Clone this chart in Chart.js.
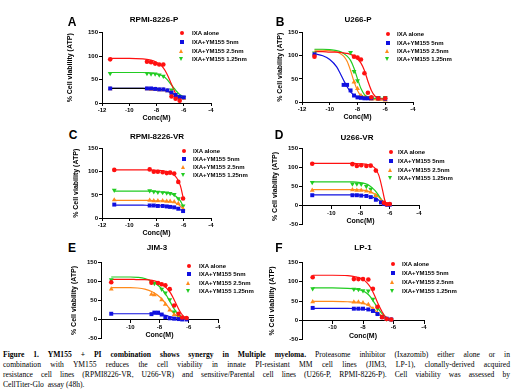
<!DOCTYPE html>
<html><head><meta charset="utf-8">
<script src="https://cdn.jsdelivr.net/npm/chart.js@4.4.1/dist/chart.umd.min.js"></script>
<style>
html,body{margin:0;padding:0;background:#fff;}
body{width:520px;height:390px;position:relative;overflow:hidden;font-family:"Liberation Sans",Arial,sans-serif;color:#000;}
canvas{position:absolute;}
.letter{position:absolute;font-weight:bold;font-size:12px;line-height:12px;transform:translate(-50%,-50%);}
.ptitle{position:absolute;font-weight:bold;font-size:8px;line-height:8px;transform:translate(-50%,-50%);white-space:nowrap;}
.legt{position:absolute;font-weight:bold;font-size:6px;line-height:6px;white-space:nowrap;}
.mk{position:absolute;}
#cap{position:absolute;left:3px;top:350px;width:507px;font-family:"Liberation Serif","Times New Roman",serif;font-size:7.6px;line-height:10px;}
#cap .j{text-align:justify;text-align-last:justify;}
</style>
</head><body>
<div id="cap">
<div class="j"><b>Figure 1. YM155 + PI combination shows synergy in Multiple myeloma.</b> Proteasome inhibitor (Ixazomib) either alone or in</div>
<div class="j">combination with YM155 reduces the cell viability in innate PI-resistant MM cell lines (JIM3, LP-1), clonally-derived acquired</div>
<div class="j">resistance cell lines (RPMI8226-VR, U266-VR) and sensitive/Parental cell lines (U266-P, RPMI-8226-P). Cell viability was assessed by</div>
<div>CellTiter-Glo&nbsp; assay (48h).</div>
</div>
<script>
// ---------- DATA ----------
const seriesNames = ['IXA alone', 'IXA+YM155 5nm', 'IXA+YM155 2.5nm', 'IXA+YM155 1.25nm'];
const panelLetters = ['A', 'B', 'C', 'D', 'E', 'F'];
const panelTitles = ['RPMI-8226-P', 'U266-P', 'RPMI-8226-VR', 'U266-VR', 'JIM-3', 'LP-1'];
const xTitle = 'Conc(M)';
const yTitle = '% Cell viability (ATP)';
const xTicks = [-12, -10, -8, -6, -4];
const yTicksTop = [0, 50, 100, 150];
const yTicksBottom = [-50, 0, 50, 100, 150];

// Panel A : RPMI-8226-P
const aDose = [-11.4, -8.7, -8.4, -8.1, -7.8, -7.5, -7.2, -6.9, -6.6, -6.3, -6.0];
const aIxa  = [93, 88, 87, 84, 82, 82, null, 14, 9, 5, null];
const a5    = [31, 31, 31, 30, 29, 29, 27, 22, 17, 13, 12];
const a25   = [30, 30, 29, 29, 28, 28, 26, 21, 15, 11, 10];
const a125  = [63, 63, 62, 62, 60, 57, null, 28, 18, 14, 12];
const aFitX   = [-11.4, -10, -9, -8.5, -8, -7.75, -7.5, -7.25, -7, -6.75, -6.5, -6.25, -6.0];
const aIxaFit = [95, 95, 94, 92, 87, 82, 75, 63, 47, 30, 14, 1, null];
const a5Fit   = [31, 31, 31, 31, 30, 29, 28, 26, 23, 20, 16, 13, 11];
const a25Fit  = [31, 31, 31, 30, 30, 29, 28, 26, 23, 19, 15, 12, 10];
const a125Fit = [65, 65, 65, 64, 62, 60, 57, 51, 42, 33, 24, 17, 13];

// Panel B : U266-P
const bDose = [-11.1, -9.0, -8.75, -8.5, -8.25, -8.0, -7.75, -7.5, -7.25, -7.0, -6.5, -6.0];
const bIxa  = [98, null, null, null, 98, 96, 92, 62, 20, 10, 8, 8];
const b5    = [103, 37, 37, 25, 14, 10, 9, 8, 8, 8, 8, 7];
const b25   = [104, null, null, null, 43, 29, 14, 10, 8, 6, 5, 4];
const b125  = [106, null, null, 107, 66, 46, 12, 10, 10, 10, 10, 10];
const bFitX   = [-11.1, -10.5, -10, -9.5, -9.25, -9, -8.75, -8.5, -8.25, -8, -7.75, -7.5, -7.25, -7, -6.75, -6.5, -6];
const bIxaFit = [109, 109, 108, 108, 107, 106, 105, 103, 99, 93, 84, 68, 45, 25, 13, 8, 6];
const b5Fit   = [104, 100, 92, 76, 62, 47, 33, 22, 15, 11, 9, 8, 8, 7, 7, 7, 7];
const b25Fit  = [112, 112, 111, 108, 105, 99, 88, 68, 44, 25, 13, 8, 6, 5, 5, 4, 4];
const b125Fit = [114, 114, 113, 111, 109, 105, 99, 90, 73, 50, 29, 16, 11, 9, 8, 8, 8];

// Panel C : RPMI-8226-VR
const cDose = [-11.1, -8.5, -8.2, -7.9, -7.55, -7.25, -7.0, -6.7, -6.4, -6.05];
const cIxa  = [104, 105, 100, 100, 99, 97, 98, 96, 78, 42];
const c5    = [29, 27, 27, 26, 26, 25, 24, 23, 20, 15];
const c25   = [39, 38, 37, 37, 37, 36, 36, 35, 31, 20];
const c125  = [60, 59, 57, 56, 55, 54, 53, 51, 42, 26];
const cFitX   = [-11.1, -10, -9, -8.5, -8, -7.5, -7, -6.75, -6.5, -6.25, -6.05];
const cIxaFit = [104, 104, 104, 104, 103, 102, 98, 94, 86, 70, 45];
const c5Fit   = [28, 28, 28, 27, 27, 26, 25, 23, 21, 18, 15];
const c25Fit  = [38, 38, 38, 38, 37, 37, 35, 34, 31, 26, 20];
const c125Fit = [58, 58, 58, 58, 57, 56, 53, 50, 45, 37, 26];

// Panel D : U266-VR
const dDose = [-11.3, -8.55, -8.25, -7.95, -7.6, -7.3, -6.95, -6.6, -6.4, -6.2, -6.0];
const dIxa  = [110, 109, 104, 106, 104, 105, 92, null, 7, 3, 4];
const d5    = [27, 27, 27, 26, 25, 22, 15, 8, 4, 2, 2];
const d25   = [40, 41, 40, 40, 38, 35, 26, 12, 5, 2, 2];
const d125  = [61, 57, 57, 56, 50, 43, 25, 10, 5, 3, 3];
const dFitX   = [-11.3, -10, -9, -8.5, -8, -7.5, -7.25, -7, -6.75, -6.5, -6.35, -6.2, -6.0];
const dIxaFit = [111, 111, 111, 111, 110, 108, 105, 98, 80, 42, 15, 0, null];
const d5Fit   = [28, 28, 28, 28, 27, 25, 23, 19, 14, 8, 5, 2, 1];
const d25Fit  = [42, 42, 42, 42, 41, 38, 35, 30, 22, 12, 7, 3, 1];
const d125Fit = [62, 62, 62, 62, 60, 55, 48, 39, 26, 12, 6, 2, 1];

// Panel E : JIM-3
const eDose = [-11.3, -8.55, -8.35, -8.1, -7.85, -7.6, -7.3, -7.0, -6.7, -6.45, -6.15];
const eIxa  = [98, 97, null, 96, 93, 90, 80, 37, 15, 5, 4];
const e5    = [15, 14, 18, 18, 13, 6, 3, 2, 1, 0, 0];
const e25   = [80, 66, 65, null, 52, 40, 25, 12, 5, 2, 2];
const e125  = [105, 98, 95, null, 80, 70, 52, 20, 8, 4, 3];
const eFitX   = [-11.3, -10, -9.5, -9, -8.5, -8, -7.75, -7.5, -7.25, -7, -6.75, -6.5, -6.25, -6.1];
const eIxaFit = [106, 106, 105, 105, 103, 97, 91, 82, 70, 52, 32, 15, 5, 2];
const e5Fit   = [15, 15, 15, 15, 15, 14, 12, 10, 7, 5, 3, 2, 1, 0];
const e25Fit  = [84, 84, 83, 80, 73, 60, 50, 38, 25, 15, 8, 4, 2, 1];
const e125Fit = [112, 112, 111, 108, 100, 87, 76, 62, 45, 28, 15, 7, 3, 2];

// Panel F : LP-1
const fDose = [-11.3, -8.6, -8.3, -8.0, -7.65, -7.35, -7.05, -6.75, -6.45, -6.15];
const fIxa  = [112, 107, 107, 107, 106, 82, 35, 8, 3, 2];
const f5    = [32, 30, 30, 30, 28, 24, 16, 8, 4, 2];
const f25   = [48, 47, 47, 45, 41, 30, 18, 8, 3, 1];
const f125  = [82, 81, 80, 77, 76, 55, 30, 10, 3, 2];
const fFitX   = [-11.3, -10, -9, -8.5, -8, -7.75, -7.5, -7.25, -7, -6.75, -6.5, -6.2];
const fIxaFit = [117, 117, 116, 113, 106, 98, 85, 65, 42, 22, 8, 2];
const f5Fit   = [31, 31, 31, 30, 29, 28, 26, 22, 16, 10, 5, 2];
const f25Fit  = [49, 49, 48, 47, 44, 41, 35, 27, 19, 11, 5, 2];
const f125Fit = [84, 84, 83, 81, 76, 70, 60, 45, 30, 17, 8, 2];

// ---------- STYLE / LAYOUT ----------
const colors = ['#ff1010', '#1010e0', '#ff8a1a', '#22cc22'];
const shapes = ['circle', 'rect', 'triangle', 'triangle'];
const rot = [0, 0, 0, 180];
const radii = [2.3, 2.8, 2.8, 2.8];

const layout = [
  {L:102,R:211,T:32,B:103,ymin:0,yTX:70,xTY:118,lx:72,ly:22,tx:154,ty:20,mx:182,tx2:192,rows:[33,42,51,59],line2:'#000'},
  {L:302,R:413,T:32,B:102,ymin:0,yTX:280,xTY:117,lx:280,ly:22,tx:358,ty:20,mx:388,tx2:397,rows:[34,43,51,59]},
  {L:102,R:211,T:148,B:218,ymin:0,yTX:76,xTY:233,lx:73,ly:135,tx:157,ty:137,mx:184,tx2:193,rows:[151,159,167,175]},
  {L:302,R:419,T:148,B:225,ymin:-50,yTX:275,xTY:221,lx:279,ly:135,tx:357,ty:138,mx:391,tx2:398,rows:[152,161,170,178]},
  {L:101,R:218,T:262,B:339,ymin:-50,yTX:74,xTY:335,lx:72,ly:248,tx:157,ty:248,mx:189,tx2:199,rows:[266,274,283,291]},
  {L:302,R:424,T:262,B:340,ymin:-50,yTX:272,xTY:336,lx:279,ly:248,tx:363,ty:248,mx:393,tx2:402,rows:[264,273,282,291]}
];

const panelData = [
  {dose:aDose, pts:[aIxa,a5,a25,a125], fitX:aFitX, fits:[aIxaFit,a5Fit,a25Fit,a125Fit]},
  {dose:bDose, pts:[bIxa,b5,b25,b125], fitX:bFitX, fits:[bIxaFit,b5Fit,b25Fit,b125Fit]},
  {dose:cDose, pts:[cIxa,c5,c25,c125], fitX:cFitX, fits:[cIxaFit,c5Fit,c25Fit,c125Fit]},
  {dose:dDose, pts:[dIxa,d5,d25,d125], fitX:dFitX, fits:[dIxaFit,d5Fit,d25Fit,d125Fit]},
  {dose:eDose, pts:[eIxa,e5,e25,e125], fitX:eFitX, fits:[eIxaFit,e5Fit,e25Fit,e125Fit]},
  {dose:fDose, pts:[fIxa,f5,f25,f125], fitX:fFitX, fits:[fIxaFit,f5Fit,f25Fit,f125Fit]}
];

const FONT = '"Liberation Sans", Arial, sans-serif';

function addDiv(cls, text, x, y) {
  const d = document.createElement('div');
  d.className = cls; d.textContent = text;
  d.style.left = x + 'px'; d.style.top = y + 'px';
  document.body.appendChild(d);
  return d;
}

function addMarker(k, cx, cy) {
  const m = document.createElement('div');
  m.className = 'mk';
  const c = colors[k];
  if (k === 0) { Object.assign(m.style, {width:'4.6px',height:'4.6px',borderRadius:'50%',background:c,left:(cx-2.3)+'px',top:(cy-2.3)+'px'}); }
  else if (k === 1) { Object.assign(m.style, {width:'4px',height:'4px',background:c,left:(cx-2)+'px',top:(cy-2)+'px'}); }
  else if (k === 2) { Object.assign(m.style, {width:0,height:0,borderLeft:'2.6px solid transparent',borderRight:'2.6px solid transparent',borderBottom:'4.4px solid '+c,left:(cx-2.6)+'px',top:(cy-2.4)+'px'}); }
  else { Object.assign(m.style, {width:0,height:0,borderLeft:'2.6px solid transparent',borderRight:'2.6px solid transparent',borderTop:'4.4px solid '+c,left:(cx-2.6)+'px',top:(cy-2)+'px'}); }
  document.body.appendChild(m);
}

function makePanel(i) {
  const p = layout[i], dat = panelData[i];
  const zeroAxis = p.ymin < 0;
  const cl = Math.round(p.yTX - 4.2);
  const ct = p.T - 4;
  const padR = 7;
  const cr = p.R + padR;
  let cb, xH, padB;
  if (!zeroAxis) { cb = Math.round(p.xTY + 4.2); xH = cb - p.B; padB = 0; }
  else { const pix0 = p.T + (150 / (150 - p.ymin)) * (p.B - p.T); xH = p.xTY - pix0 + 4.2; padB = 4; cb = p.B + padB; }
  const yW = p.L - cl;
  const cv = document.createElement('canvas');
  cv.width = cr - cl; cv.height = cb - ct;
  cv.style.left = cl + 'px'; cv.style.top = ct + 'px';
  cv.style.width = cv.width + 'px'; cv.style.height = cv.height + 'px';
  document.body.appendChild(cv);

  const datasets = [];
  for (let k = 0; k < 4; k++) {
    const pts = [];
    dat.dose.forEach((x, j) => { const v = dat.pts[k][j]; if (v !== null && v !== undefined) pts.push({x, y: v}); });
    datasets.push({label: seriesNames[k], data: pts, showLine: false, pointStyle: shapes[k], pointRotation: rot[k],
      pointRadius: radii[k], pointBackgroundColor: colors[k], pointBorderWidth: 0, pointBorderColor: colors[k], clip: false});
  }
  const curveOrder = [0, 3, 2, 1];
  curveOrder.forEach(k => {
    const pts = dat.fitX.map((x, j) => ({x, y: dat.fits[k][j]}));
    const col = (k === 2 && p.line2) ? p.line2 : colors[k];
    datasets.push({label: seriesNames[k] + ' fit', data: pts, showLine: true, pointRadius: 0, borderColor: col,
      borderWidth: 1.2, cubicInterpolationMode: 'monotone', spanGaps: false});
  });

  const yTicks = zeroAxis ? yTicksBottom : yTicksTop;
  const tickFont = {family: FONT, size: 6, weight: 'bold'};
  const titleFont = {family: FONT, size: 7, weight: 'bold'};
  new Chart(cv, {
    type: 'scatter',
    data: {datasets},
    options: {
      responsive: false, animation: false, devicePixelRatio: 1,
      layout: {padding: {left: 0, top: 4, right: padR, bottom: padB}},
      plugins: {legend: {display: false}, tooltip: {enabled: false}},
      scales: {
        x: {
          type: 'linear', min: xTicks[0], max: xTicks[xTicks.length - 1],
          position: zeroAxis ? {y: 0} : 'bottom',
          afterBuildTicks: s => { s.ticks = xTicks.map(v => ({value: v})); },
          afterFit: s => { s.height = xH; },
          ticks: {color: '#000', font: tickFont, padding: 1, maxRotation: 0, minRotation: 0, autoSkip: false,
            callback: v => (zeroAxis && v === xTicks[0]) ? '' : String(v)},
          grid: {display: true, drawOnChartArea: false, drawTicks: true, tickLength: 3, color: '#000', lineWidth: 1},
          border: {display: true, color: '#000', width: 1},
          title: {display: true, text: xTitle, color: '#000', font: titleFont, padding: 0}
        },
        y: {
          type: 'linear', min: p.ymin, max: 150,
          afterBuildTicks: s => { s.ticks = yTicks.map(v => ({value: v})); },
          afterFit: s => { s.width = yW; },
          ticks: {color: '#000', font: tickFont, padding: 1, autoSkip: false, callback: v => String(v)},
          grid: {display: true, drawOnChartArea: false, drawTicks: true, tickLength: 3, color: '#000', lineWidth: 1},
          border: {display: true, color: '#000', width: 1},
          title: {display: true, text: yTitle, color: '#000', font: titleFont, padding: 0}
        }
      }
    }
  });

  addDiv('letter', panelLetters[i], p.lx, p.ly);
  addDiv('ptitle', panelTitles[i], p.tx, p.ty);
  for (let k = 0; k < 4; k++) {
    addMarker(k, p.mx, p.rows[k]);
    addDiv('legt', seriesNames[k], p.tx2, p.rows[k] - 3);
  }
}

for (let i = 0; i < 6; i++) makePanel(i);
</script>
</body></html>
